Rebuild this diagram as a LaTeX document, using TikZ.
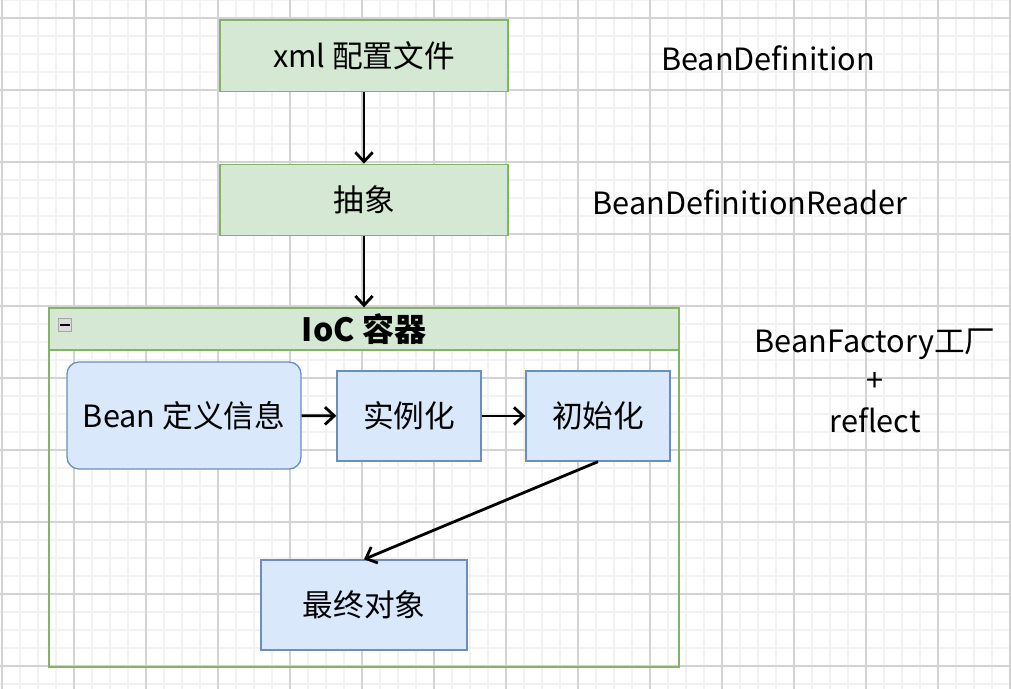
\documentclass[tikz,border=0pt]{standalone}
\usepackage{fontspec}
\setmainfont{Noto Sans CJK SC}
\usetikzlibrary{arrows.meta,positioning}
\definecolor{gfill}{HTML}{D5E8D4}
\definecolor{gline}{HTML}{82B366}
\definecolor{bfill}{HTML}{DAE8FC}
\definecolor{bline}{HTML}{6C8EBF}
\definecolor{gridminor}{HTML}{F2F2F2}
\definecolor{gridmajor}{HTML}{D3D3D3}

\begin{document}
\begin{tikzpicture}[x=0.75pt,y=-0.75pt,>={Straight Barb[length=7pt,width=13pt]},
  every node/.style={font=\fontsize{23}{27}\selectfont,inner sep=0pt},
  gbox/.style={draw=gline,fill=gfill,line width=1pt,minimum width=216pt,minimum height=53.5pt},
  bbox/.style={draw=bline,fill=bfill,line width=1pt,minimum width=108pt,minimum height=67.5pt},
  flow/.style={->,line width=2.1pt}]
\useasboundingbox (0,0) rectangle (1011,689);
\fill[white] (0,0) rectangle (1011,689);
\foreach \gx in {2,20,...,1010} \draw[gridminor,line width=1pt] (\gx,0) -- (\gx,689);
\foreach \gy in {0,18,...,689} \draw[gridminor,line width=1pt] (0,\gy) -- (1011,\gy);
\foreach \gx in {2,74,...,1010} \draw[gridmajor,line width=0.8pt] (\gx,0) -- (\gx,689);
\foreach \gy in {18,90,...,689} \draw[gridmajor,line width=0.8pt] (0,\gy) -- (1011,\gy);

\node[gbox] (cfg) at (364,55.5) {xml 配置文件};
\node[gbox] (abs) at (364,200) {抽象};
\node[draw=gline,line width=1pt,minimum width=472.5pt,minimum height=269.25pt] (ioc) at (364,487.5) {};
\node[draw=gline,fill=gfill,line width=1pt,minimum width=472.5pt,minimum height=31.5pt,font=\fontsize{24}{28}\selectfont\bfseries] (hdr) at (364,329) {IoC 容器};
\node[draw=gray!70,fill=gray!30,minimum width=10pt,minimum height=9.5pt] (fold) at (65,325) {};
\draw[black,line width=1pt] (60,325) -- (70,325);

\node[bbox,rounded corners=9pt,minimum width=175.5pt,minimum height=80.25pt] (bean) at (184,415.5) {Bean 定义信息};
\node[bbox] (inst) at (409,416) {实例化};
\node[bbox] (init) at (598,416) {初始化};
\node[bbox,minimum width=154.5pt,minimum height=67.5pt] (final) at (364,605) {最终对象};

\node (bd) at (768,58) {BeanDefinition};
\node (bdr) at (750,202) {BeanDefinitionReader};
\node (bf) at (875,344) {BeanFactory工厂};
\node (plus) at (875,382) {+};
\node (refl) at (875,420) {reflect};

\draw[flow] (cfg) -- (abs);
\draw[flow] (abs) -- (hdr);
\draw[flow] (bean) -- (inst);
\draw[flow] (inst) -- (init);
\draw[flow] (init.south) -- (final.north);
\end{tikzpicture}
\end{document}
